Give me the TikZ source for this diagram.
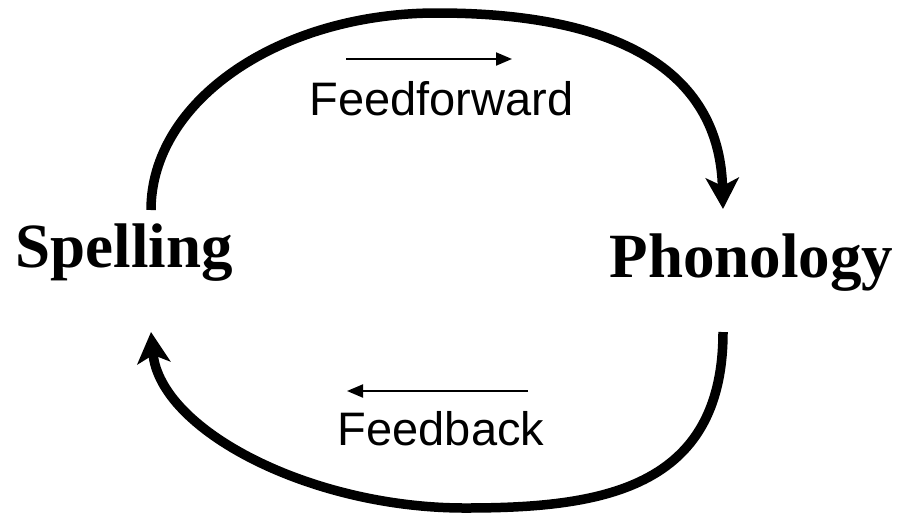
\documentclass[tikz,border=0pt]{standalone}
\usepackage{fontspec}
\setmainfont{Liberation Serif}
\newfontfamily\arialfont{Liberation Sans}
\usetikzlibrary{arrows.meta}
\begin{document}
\begin{tikzpicture}[x=1pt,y=-1pt,
  bigarc/.style={line width=9.5pt, line cap=butt, -{Stealth[length=31pt,width=33pt,inset=8pt]}},
  thinarrow/.style={line width=2pt, -{Triangle[length=16pt,width=13pt]}},
  concept/.style={font=\fontsize{63}{70}\selectfont\bfseries, inner sep=0pt, anchor=base},
  flowlabel/.style={font=\arialfont\fontsize{47}{52}\selectfont, inner sep=0pt, anchor=base}]
\useasboundingbox (0,0) rectangle (901,515);
\node[concept] (spell) at (124,267) {Spelling};
\node[concept] (phon) at (751.5,277) {Phonology};
\node[flowlabel] (ff) at (441.5,115) {Feedforward};
\node[flowlabel] (fb) at (441,445) {Feedback};
% thin direction arrows
\coordinate (ffa) at (346,59);
\coordinate (ffb) at (512,59);
\coordinate (fba) at (528,391);
\coordinate (fbb) at (347,391);
\draw[thinarrow] (ffa) -- (ffb);
\draw[thinarrow] (fba) -- (fbb);
% big arcs
\coordinate (s-up) at (151,210);
\coordinate (top) at (437,13);
\coordinate (p-in) at (723,209);
\coordinate (p-out) at (723,332);
\coordinate (bot) at (465,508);
\coordinate (s-in) at (151,332);
\draw[bigarc] (s-up) .. controls (151,101) and (279,13) .. (top)
  .. controls (640,13) and (720,85) .. (p-in);
\draw[bigarc] (p-out) .. controls (723,490) and (600,508) .. (bot)
  .. controls (310,508) and (160,430) .. (s-in);
\end{tikzpicture}
\end{document}
